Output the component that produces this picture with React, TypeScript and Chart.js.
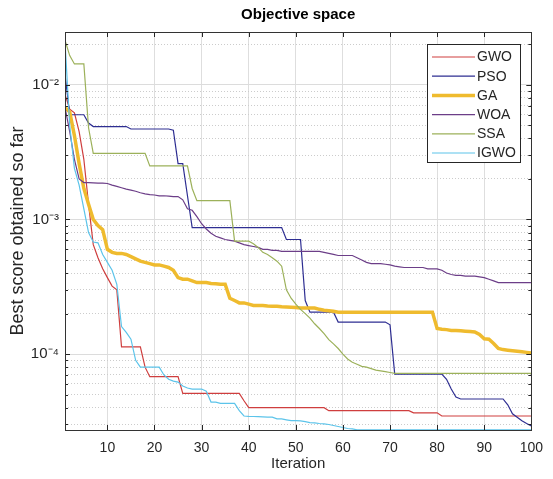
import React, { useEffect, useRef } from "react";
import { Chart, registerables } from "chart.js";

Chart.register(...registerables);

// ---------- data ----------
const iterations: number[] = Array.from({ length: 100 }, (_, k) => k + 1);

const seriesNames = ["GWO", "PSO", "GA", "WOA", "SSA", "IGWO"];

const gwo = [
  0.0085, 0.0066, 0.0062, 0.0045, 0.0028, 0.0013, 0.00065, 0.00052, 0.00043, 0.00037,
  0.00032, 0.0003, 0.000113, 0.000113, 0.000113, 0.000113, 0.000113, 0.00008, 0.000068, 0.000068,
  0.000068, 0.000068, 0.000068, 0.000068, 0.000068, 0.000051, 0.000051, 0.000051, 0.000051, 0.000051,
  0.000051, 0.000051, 0.000051, 0.000051, 0.000051, 0.000051, 0.000051, 0.000051, 0.000045, 0.00004,
  0.00004, 0.00004, 0.00004, 0.00004, 0.00004, 0.00004, 0.00004, 0.00004, 0.00004, 0.00004,
  0.00004, 0.00004, 0.00004, 0.00004, 0.00004, 0.00004, 0.000038, 0.000038, 0.000038, 0.000038,
  0.000038, 0.000038, 0.000038, 0.000038, 0.000038, 0.000038, 0.000038, 0.000038, 0.000038, 0.000038,
  0.000038, 0.000038, 0.000038, 0.000038, 0.0000366, 0.0000366, 0.0000366, 0.0000366, 0.0000366, 0.0000366,
  0.0000347, 0.0000347, 0.0000347, 0.0000347, 0.0000347, 0.0000347, 0.0000347, 0.0000347, 0.0000347, 0.0000347,
  0.0000347, 0.0000347, 0.0000347, 0.0000347, 0.0000347, 0.0000347, 0.0000347, 0.0000347, 0.0000347, 0.0000347,
];

const pso = [
  0.012, 0.006, 0.006, 0.006, 0.006, 0.0052, 0.0049, 0.0049, 0.0049, 0.0049,
  0.0049, 0.0049, 0.0049, 0.0049, 0.0047, 0.0047, 0.0047, 0.0047, 0.0047, 0.0047,
  0.0047, 0.0047, 0.0047, 0.0046, 0.0026, 0.0026, 0.0015, 0.00087, 0.00087, 0.00087,
  0.00087, 0.00087, 0.00087, 0.00087, 0.00087, 0.00087, 0.00087, 0.00087, 0.00087, 0.00087,
  0.00087, 0.00087, 0.00087, 0.00087, 0.00087, 0.00087, 0.00087, 0.00071, 0.00071, 0.00071,
  0.00071, 0.00025, 0.000205, 0.000205, 0.000205, 0.000205, 0.000205, 0.000205, 0.000173, 0.000173,
  0.000173, 0.000173, 0.000173, 0.000173, 0.000173, 0.000173, 0.000173, 0.000173, 0.000173, 0.000165,
  0.000071, 0.000071, 0.000071, 0.000071, 0.000071, 0.000071, 0.000071, 0.000071, 0.000071, 0.000071,
  0.000071, 0.000065, 0.000055, 0.000048, 0.0000464, 0.0000464, 0.0000464, 0.0000464, 0.0000464, 0.0000464,
  0.0000464, 0.0000464, 0.0000464, 0.0000464, 0.000042, 0.000036, 0.000034, 0.000032, 0.0000305, 0.0000293,
];

const ga = [
  0.0068, 0.0063, 0.0042, 0.0026, 0.0017, 0.0013, 0.001, 0.0009, 0.00084, 0.0006,
  0.00057, 0.00056, 0.00056, 0.00055, 0.00053, 0.00051, 0.00049, 0.00048, 0.00047, 0.00046,
  0.00046, 0.00045, 0.00044, 0.00042, 0.00037, 0.00036, 0.00036, 0.00035, 0.00034, 0.00034,
  0.00034, 0.000335, 0.000333, 0.00033, 0.00033, 0.00026, 0.00025, 0.00024, 0.00024, 0.000235,
  0.00023, 0.00023, 0.00023, 0.000228, 0.000227, 0.000227, 0.000225, 0.000224, 0.000223, 0.000222,
  0.00022, 0.00022, 0.00022, 0.00022, 0.000215, 0.000212, 0.00021, 0.000208, 0.000205, 0.000205,
  0.000205, 0.000205, 0.000205, 0.000205, 0.000205, 0.000205, 0.000205, 0.000205, 0.000205, 0.000205,
  0.000205, 0.000205, 0.000205, 0.000205, 0.000205, 0.000205, 0.000205, 0.000205, 0.000205, 0.000155,
  0.000153, 0.000152, 0.00015, 0.00015, 0.000149, 0.000148, 0.000147, 0.000146, 0.00014, 0.00013,
  0.000129, 0.00012, 0.00011, 0.000108, 0.000107, 0.000106, 0.000105, 0.000104, 0.000103, 0.000102,
];

const woa = [
  0.0068, 0.0045, 0.0028, 0.002, 0.00188, 0.00188, 0.00187, 0.00186, 0.00186, 0.00185,
  0.0018, 0.00176, 0.00172, 0.00168, 0.00165, 0.00162, 0.00158, 0.00155, 0.00153, 0.00152,
  0.0015, 0.0015, 0.00149, 0.00148, 0.00148, 0.0014, 0.0012, 0.00117, 0.00105, 0.00093,
  0.00085, 0.00079, 0.00075, 0.00073, 0.00071, 0.0007, 0.00069, 0.00067, 0.00065, 0.00064,
  0.00063, 0.00062, 0.0006, 0.0006, 0.00059, 0.00059, 0.00058, 0.00058, 0.00058, 0.00058,
  0.00058, 0.00058, 0.00058, 0.00058, 0.00058, 0.00057, 0.00056, 0.00055, 0.00054, 0.00054,
  0.00054, 0.00054, 0.00052, 0.0005, 0.00048, 0.00047, 0.00047, 0.00047, 0.000465, 0.00046,
  0.00045, 0.000445, 0.00044, 0.00044, 0.00044, 0.00044, 0.00044, 0.00043, 0.00043, 0.00043,
  0.00042, 0.0004, 0.00039, 0.000385, 0.000385, 0.00038, 0.00038, 0.00038, 0.000375, 0.00037,
  0.00036, 0.00035, 0.00034, 0.00034, 0.00034, 0.00034, 0.00034, 0.00034, 0.00034, 0.00034,
];

const ssa = [
  0.0215, 0.0165, 0.0143, 0.0143, 0.0143, 0.0048, 0.0031, 0.0031, 0.0031, 0.0031,
  0.0031, 0.0031, 0.0031, 0.0031, 0.0031, 0.0031, 0.0031, 0.0031, 0.0025, 0.0025,
  0.0025, 0.0025, 0.0025, 0.0025, 0.0025, 0.0025, 0.0025, 0.0017, 0.00138, 0.00138,
  0.00138, 0.00138, 0.00138, 0.00138, 0.00138, 0.00138, 0.00069, 0.00069, 0.00069, 0.00069,
  0.00066, 0.00062, 0.00057, 0.00055, 0.00052, 0.00049, 0.00045, 0.0003, 0.00026, 0.000235,
  0.000215, 0.0002, 0.000185, 0.000168, 0.000155, 0.000142, 0.000128, 0.000119, 0.00011, 0.0001,
  0.000092, 0.000087, 0.000084, 0.000081, 0.00008, 0.000078, 0.000076, 0.000075, 0.000074, 0.000073,
  0.000072, 0.000072, 0.000072, 0.000072, 0.000072, 0.000072, 0.000072, 0.000072, 0.000072, 0.000072,
  0.000072, 0.000072, 0.000072, 0.000072, 0.000072, 0.000072, 0.000072, 0.000072, 0.000072, 0.000072,
  0.000072, 0.000072, 0.000072, 0.000072, 0.000072, 0.000072, 0.000072, 0.000072, 0.000072, 0.000072,
];

const igwo = [
  0.021, 0.005, 0.0024, 0.0018, 0.0012, 0.0008, 0.00068, 0.00067, 0.00055, 0.00048,
  0.00042, 0.00033, 0.00016, 0.000145, 0.000129, 0.00009, 0.00008, 0.00008, 0.00008, 0.00008,
  0.00008, 0.00007, 0.000065, 0.000063, 0.000062, 0.000058, 0.000056, 0.000055, 0.000055, 0.000055,
  0.000053, 0.000044, 0.000044, 0.000043, 0.000043, 0.000043, 0.000043, 0.000038, 0.0000347, 0.0000345,
  0.0000344, 0.0000343, 0.0000342, 0.000034, 0.000034, 0.000033, 0.000033, 0.0000325, 0.000032, 0.000032,
  0.0000319, 0.0000315, 0.000031, 0.0000308, 0.0000305, 0.0000303, 0.00003, 0.0000295, 0.000029, 0.0000285,
  0.000028, 0.0000278, 0.0000274, 0.0000274, 0.0000274, 0.0000274, 0.0000274, 0.0000274, 0.0000274, 0.0000274,
  0.0000274, 0.0000274, 0.0000274, 0.0000274, 0.0000274, 0.0000274, 0.0000274, 0.0000274, 0.0000274, 0.0000274,
  0.0000274, 0.0000274, 0.0000274, 0.0000274, 0.0000274, 0.0000274, 0.0000274, 0.0000274, 0.0000274, 0.0000274,
  0.0000274, 0.0000274, 0.0000274, 0.0000274, 0.0000274, 0.0000274, 0.0000274, 0.0000274, 0.0000274, 0.0000274,
];

const xTicks = [10, 20, 30, 40, 50, 60, 70, 80, 90, 100];
const yMajorTicks = [1e-4, 1e-3, 1e-2];
const yMajorLabels = ["10\u207B\u2074", "10\u207B\u00B3", "10\u207B\u00B2"];
const yMinorTicks = [
  3e-5, 4e-5, 5e-5, 6e-5, 7e-5, 8e-5, 9e-5,
  2e-4, 3e-4, 4e-4, 5e-4, 6e-4, 7e-4, 8e-4, 9e-4,
  2e-3, 3e-3, 4e-3, 5e-3, 6e-3, 7e-3, 8e-3, 9e-3,
  2e-2,
];
const xRange = [1, 100];
const yRange = [2.73e-5, 0.0247];

// ---------- styles ----------
const FONT = "'Liberation Sans', Arial, Helvetica, sans-serif";
const colors = ["#cf3e3e", "#2e2e92", "#efbb2e", "#6c3e88", "#9cb15a", "#5cc4ea"];
const widths = [1.2, 1.2, 3.5, 1.2, 1.2, 1.2];
const TEXT = "#262626";

const isMajorY = (v: number) => yMajorTicks.some((m) => Math.abs(m - v) / m < 1e-6);

const boxPlugin = {
  id: "matlabBox",
  afterDraw(chart: any) {
    const { ctx, chartArea: ca, scales } = chart;
    const xs = scales.x;
    const ys = scales.y;
    ctx.save();
    ctx.strokeStyle = TEXT;
    ctx.lineWidth = 1;
    ctx.beginPath();
    for (const v of xTicks) {
      const px = Math.round(xs.getPixelForValue(v)) + 0.5;
      ctx.moveTo(px, ca.bottom);
      ctx.lineTo(px, ca.bottom - 5);
      ctx.moveTo(px, ca.top);
      ctx.lineTo(px, ca.top + 5);
    }
    for (const v of yMajorTicks) {
      const py = Math.round(ys.getPixelForValue(v)) + 0.5;
      ctx.moveTo(ca.left, py);
      ctx.lineTo(ca.left + 5, py);
      ctx.moveTo(ca.right, py);
      ctx.lineTo(ca.right - 5, py);
    }
    for (const v of yMinorTicks) {
      const py = Math.round(ys.getPixelForValue(v)) + 0.5;
      ctx.moveTo(ca.left, py);
      ctx.lineTo(ca.left + 3, py);
      ctx.moveTo(ca.right, py);
      ctx.lineTo(ca.right - 3, py);
    }
    ctx.stroke();
    ctx.strokeStyle = "#333333";
    ctx.strokeRect(Math.round(ca.left) + 0.5, Math.round(ca.top) + 0.5,
      Math.round(ca.right - ca.left), Math.round(ca.bottom - ca.top));

    // legend
    const lx = Math.round(ca.right) - 104;
    const ly = Math.round(ca.top) + 12;
    const lw = 93;
    const lh = 118;
    ctx.fillStyle = "#ffffff";
    ctx.fillRect(lx, ly, lw, lh);
    ctx.strokeStyle = "#262626";
    ctx.lineWidth = 1;
    ctx.strokeRect(lx + 0.5, ly + 0.5, lw, lh);
    ctx.font = `14px ${FONT}`;
    ctx.textBaseline = "middle";
    ctx.textAlign = "left";
    chart.data.datasets.forEach((ds: any, k: number) => {
      const cy = ly + 13 + k * 19.2;
      ctx.strokeStyle = ds.borderColor;
      ctx.lineWidth = ds.borderWidth;
      ctx.beginPath();
      ctx.moveTo(lx + 5, cy);
      ctx.lineTo(lx + 48, cy);
      ctx.stroke();
      ctx.fillStyle = TEXT;
      ctx.fillText(ds.label, lx + 50, cy + 0.5);
    });
    ctx.restore();
  },
};

export default function App() {
  const ref = useRef<HTMLCanvasElement | null>(null);

  useEffect(() => {
    document.body.style.margin = "0";
    const canvas = ref.current;
    if (!canvas) return;
    const all = [gwo, pso, ga, woa, ssa, igwo];
    const chart = new Chart(canvas, {
      type: "line",
      data: {
        datasets: all.map((vals, k) => ({
          label: seriesNames[k],
          data: vals.map((v, i) => ({ x: iterations[i], y: v })),
          borderColor: colors[k],
          backgroundColor: colors[k],
          borderWidth: widths[k],
          pointRadius: 0,
          tension: 0,
          fill: false,
          order: all.length - k,
        })),
      },
      options: {
        animation: false,
        responsive: false,
        devicePixelRatio: 1,
        layout: { padding: { left: 0, right: 14, top: 0, bottom: 0 } },
        plugins: {
          legend: { display: false },
          tooltip: { enabled: false },
          title: {
            display: true,
            text: "Objective space",
            fullSize: false,
            color: "#000000",
            font: { family: FONT, size: 15, weight: "bold" },
            padding: { top: 6, bottom: 8 },
          },
        },
        scales: {
          x: {
            type: "linear",
            min: xRange[0],
            max: xRange[1],
            afterBuildTicks: (s: any) => {
              s.ticks = xTicks.map((v) => ({ value: v }));
            },
            afterFit: (s: any) => {
              s.height = 49;
            },
            ticks: {
              autoSkip: false,
              maxRotation: 0,
              padding: 10,
              color: TEXT,
              font: { family: FONT, size: 14 },
              callback: (v: any) => String(v),
            },
            grid: { color: "#dedede", lineWidth: 1, drawTicks: false },
            border: { display: false },
            title: {
              display: true,
              text: "Iteration",
              color: TEXT,
              font: { family: FONT, size: 15 },
              padding: { top: 0, bottom: 6 },
            },
          },
          y: {
            type: "logarithmic",
            min: yRange[0],
            max: yRange[1],
            afterBuildTicks: (s: any) => {
              const vals = [...yMinorTicks, ...yMajorTicks].sort((a, b) => a - b);
              s.ticks = vals.map((v) => ({ value: v }));
            },
            afterFit: (s: any) => {
              s.width = 65;
            },
            ticks: {
              autoSkip: false,
              padding: 6,
              color: TEXT,
              font: { family: FONT, size: 15 },
              callback: (v: any) => {
                const idx = yMajorTicks.findIndex((m) => Math.abs(m - v) / m < 1e-6);
                return idx >= 0 ? yMajorLabels[idx] : "";
              },
            },
            grid: {
              drawTicks: false,
              lineWidth: 1,
              color: (c: any) => (c.tick && isMajorY(c.tick.value) ? "#dcdcdc" : "#cccccc"),
            },
            border: {
              display: false,
              dash: (c: any) => (c.tick && isMajorY(c.tick.value) ? [] : [1, 2]),
            },
            title: {
              display: true,
              text: "Best score obtained so far",
              color: TEXT,
              font: { family: FONT, size: 18 },
              padding: { top: 7, bottom: 0 },
            },
          },
        },
      },
      plugins: [boxPlugin],
    } as any);
    return () => chart.destroy();
  }, []);

  return <canvas ref={ref} width={553} height={479} style={{ display: "block" }} />;
}
